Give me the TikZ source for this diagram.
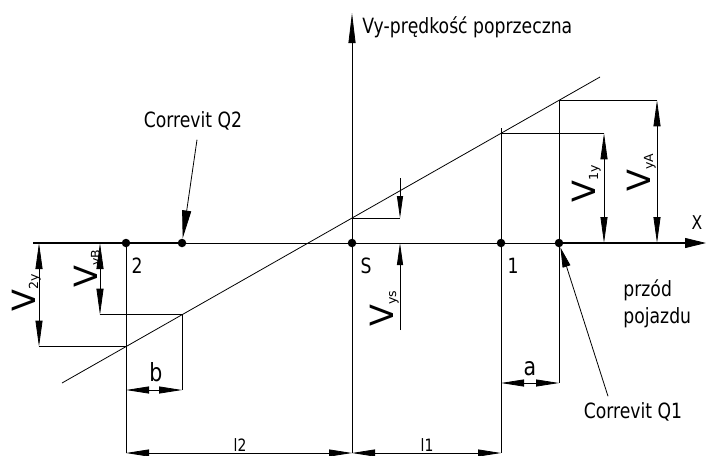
\documentclass[tikz,border=0pt]{standalone}
\usepackage{fontspec}
\setmainfont{DejaVu Sans}[FakeStretch=0.82]
\newfontfamily\vfont{DejaVu Sans}
\usetikzlibrary{arrows.meta}
\newcommand\vsubtxt[1]{\raisebox{-3pt}{\fontsize{12.5}{12.5}\selectfont #1}}
\begin{document}
\begin{tikzpicture}[x=1pt,y=-1pt,line width=0.8pt,
  >={Triangle[length=26pt,width=7pt]},
  dot/.style={circle,fill,inner sep=0pt,minimum size=8.5pt},
  lbl/.style={font=\fontsize{21}{25}\selectfont,inner sep=0pt},
  vlab/.style={font=\vfont\fontsize{32}{32}\selectfont,inner sep=0pt,rotate=90,anchor=base west},
  dimlab/.style={font=\fontsize{25}{25}\selectfont,inner sep=0pt},
  llab/.style={font=\fontsize{17}{17}\selectfont,inner sep=0pt},
  smallarr/.style={-{Triangle[length=22pt,width=6pt]}},
  axisthick/.style={line width=1.2pt}]
\useasboundingbox (0,0) rectangle (706,455);

% axis points
\coordinate (ax0) at (33,243);
\coordinate (axE) at (706,243);
\coordinate (vB) at (352,453);
\coordinate (vT) at (352,13);

% points on the axis
\node[dot] (P2) at (126,243) {};
\node[dot] (Q2) at (182,243) {};
\node[dot] (S) at (352,243) {};
\node[dot] (P1) at (501,243) {};
\node[dot] (Q1) at (559,243) {};

% slanted line and its intersections
\coordinate (L0) at (62,383);
\coordinate (L1) at (600,77);
\coordinate (iP2) at (126,346.6);
\coordinate (iQ2) at (182,314.7);
\coordinate (iS) at (352,218.1);
\coordinate (iVs) at (400,190.8);
\coordinate (iP1) at (501,133.3);
\coordinate (iQ1) at (559,100.3);

% axes
\draw[-{Triangle[length=21pt,width=10pt]}] (ax0) -- (axE);
\draw[axisthick] (ax0) -- (Q2.center);
\draw[axisthick] (Q1.center) -- (688,243);
\draw[-{Triangle[length=30pt,width=7pt]}] (vB) -- (vT);
\node[lbl,anchor=base west] (ylab) at (362,33) {Vy-prędkość poprzeczna};
\node[font=\fontsize{19}{19}\selectfont,inner sep=0pt] (xlab) at (697,223) {X};

\draw (L0) -- (L1);

% extension lines
\coordinate (P2b) at (126,453);
\coordinate (Q2b) at (182,390);
\coordinate (P1t) at (501,128);
\coordinate (P1b) at (501,453);
\coordinate (Q1b) at (559,383);
\draw (P2.center) -- (P2b);
\draw (iQ2) -- (Q2b);
\draw (P1t) -- (P1b);
\draw (iQ1) -- (Q1b);

% horizontal projections
\coordinate (d2y) at (39,346.6);
\coordinate (dyB) at (100,314.7);
\coordinate (dys) at (400,218.1);
\coordinate (d1y) at (604,133.3);
\coordinate (dyA) at (657,100.3);
\draw (iP2) -- (d2y);
\draw (iQ2) -- (dyB);
\draw (iS) -- (dys);
\draw (iP1) -- (d1y);
\draw (iQ1) -- (dyA);

% vertical dimensions
\draw[<->] (39,243) -- (d2y);
\draw[<->] (100,243) -- (dyB);
\draw[<->] (604,243) -- (d1y);
\draw[<->] (657,243) -- (dyA);
\coordinate (vsT) at (400,178);
\coordinate (vsB) at (400,330);
\coordinate (vsA) at (400,243);
\draw[smallarr] (vsT) -- (dys);
\draw[smallarr] (vsB) -- (vsA);

\node[vlab] (lV2y) at (35,312) {V\vsubtxt{2y}};
\node[vlab] (lVyB) at (97,288) {V\vsubtxt{yB}};
\node[vlab] (lV1y) at (595,203) {V\vsubtxt{1y}};
\node[vlab] (lVyA) at (650,192) {V\vsubtxt{yA}};
\node[vlab] (lVys) at (393,327) {V\vsubtxt{ys}};

% horizontal dimensions
\draw[{Triangle[length=23pt,width=7pt]}-{Triangle[length=23pt,width=7pt]}] (P2b |- Q2b) -- (Q2b);
\draw[{Triangle[length=23pt,width=7pt]}-{Triangle[length=23pt,width=7pt]}] (P1b |- Q1b) -- (Q1b);
\draw[{Triangle[length=23pt,width=7pt]}-{Triangle[length=23pt,width=7pt]}] (P2b) -- (vB);
\draw[{Triangle[length=23pt,width=7pt]}-{Triangle[length=23pt,width=7pt]}] (vB) -- (P1b);
\node[dimlab] (lb) at (156,372) {b};
\node[dimlab] (la) at (530,369) {a};
\node[llab] (ll2) at (240,445) {l2};
\node[llab] (ll1) at (427,445) {l1};

% point labels
\node[lbl] (t2) at (137,266) {2};
\node[lbl] (tS) at (366,266) {S};
\node[lbl] (t1) at (513,266) {1};

% pointers
\node[lbl] (cq2) at (193,121) {Correvit Q2};
\node[lbl] (cq1) at (633,412) {Correvit Q1};
\draw[-{Triangle[length=28pt,width=9pt]}] ([xshift=4pt,yshift=-9pt]cq2.south) -- (Q2);
\draw[-{Triangle[length=20pt,width=8pt]}] ([xshift=-25pt,yshift=6pt]cq1.north) -- (Q1);
\node[lbl,anchor=base west] (fr1) at (623,296) {przód};
\node[lbl,anchor=base west] (fr2) at (623,323) {pojazdu};
\end{tikzpicture}
\end{document}
